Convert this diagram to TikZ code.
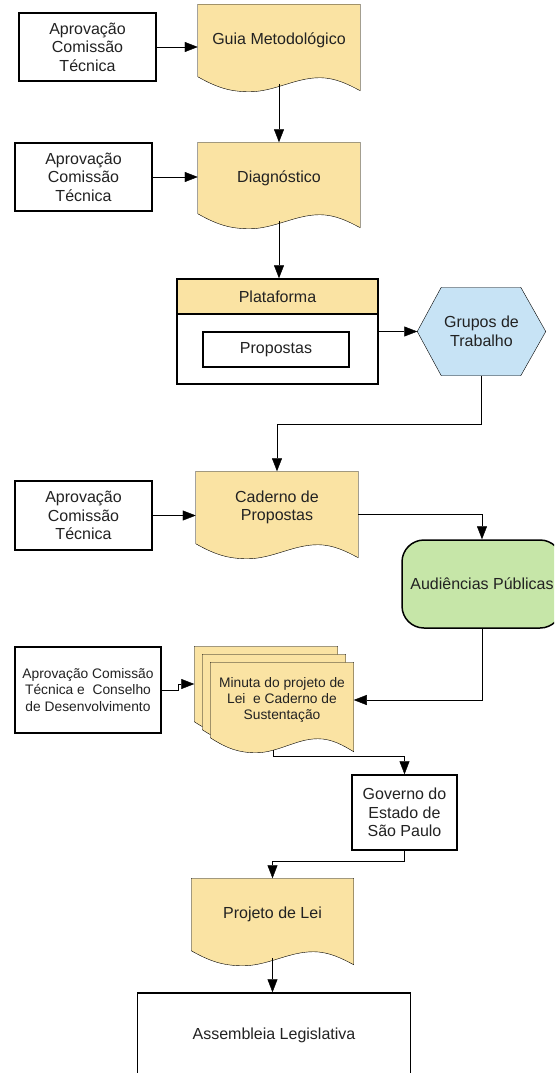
\documentclass[tikz,border=0pt]{standalone}
\usepackage{fontspec}
\setmainfont{Liberation Sans}
\usetikzlibrary{arrows.meta,calc,backgrounds}
\definecolor{docyellow}{RGB}{250,227,163}
\definecolor{audgreen}{RGB}{198,230,168}
\definecolor{grpblue}{RGB}{199,227,245}
\definecolor{ink}{RGB}{34,34,34}
\newcommand{\wavedoc}[1]{%
  \filldraw[docshape] let \p1=(#1.south west), \p2=(#1.north east), \n1={\x2-\x1} in
    (\p1) .. controls ({\x1+0.12*\n1},{\y1-11pt}) and ({\x1+0.2*\n1},{\y1-15pt}) .. ({\x1+0.32*\n1},{\y1-15pt})
    .. controls ({\x1+0.47*\n1},{\y1-15pt}) and ({\x1+0.6*\n1},{\y1-1pt}) .. ({\x1+0.75*\n1},{\y1-1pt})
    .. controls ({\x1+0.85*\n1},{\y1-1pt}) and ({\x1+0.93*\n1},{\y1-8pt}) .. (\x2,{\y1-14pt})
    -- (\p2) -- (\x1,\y2) -- cycle;}
\begin{document}
\begin{tikzpicture}[x=1pt,y=-1pt,line width=1.5pt,
  every node/.style={inner sep=2pt,align=center,text=ink,font=\fontsize{16}{18.5}\selectfont},
  box/.style={draw,fill=white},
  small/.style={font=\fontsize{13.8}{16.2}\selectfont},
  arr/.style={-{Triangle[length=13pt,width=10pt]}},
  docshape/.style={draw,fill=docyellow}]
	\useasboundingbox (0,0) rectangle (554,1073);
	\clip (0,0) rectangle (554,1073);
	\node[box,minimum width=137,minimum height=68] (apr1) at (87.5,47) {Aprovação\\Comissão\\Técnica};
	\node[minimum width=161,minimum height=71] (guia) at (279,40.5) {Guia Metodológico};
	\node[box,minimum width=137,minimum height=68] (apr2) at (83.5,177) {Aprovação\\Comissão\\Técnica};
	\node[minimum width=161,minimum height=70] (diag) at (279,178) {Diagnóstico};
	\node[box,minimum width=201,minimum height=105] (plat) at (277.5,331.5) {};
	\node[draw,fill=docyellow,minimum width=201,minimum height=35,anchor=north] (plathead) at (plat.north) {Plataforma};
	\node[box,minimum width=146,minimum height=35] (propostas) at (276,349.5) {Propostas};
	\node[minimum width=127,minimum height=87] (grupos) at (481.5,331.5) {Grupos de\\Trabalho};
	\node[box,minimum width=137,minimum height=69] (apr3) at (83.5,515.5) {Aprovação\\Comissão\\Técnica};
	\node[minimum width=161,minimum height=71] (caderno) at (277,507.5) {Caderno de\\Propostas};
	\node[draw,fill=audgreen,rounded corners=22pt,minimum width=160,minimum height=88] (aud) at (482,584) {Audiências Públicas};
	\node[box,small,minimum width=146,minimum height=86] (apr4) at (88,690) {Aprovação Comissão\\Técnica e\ \ Conselho\\de Desenvolvimento};
	\node[minimum width=142,minimum height=74] (mback) at (266,684) {};
	\node[minimum width=142,minimum height=74] (mmid) at (274,692) {};
	\node[small,minimum width=142,minimum height=74] (minuta) at (282,700) {Minuta do projeto de\\Lei\ \ e Caderno de\\Sustentação};
	\node[box,minimum width=105,minimum height=75] (governo) at (404.5,812.5) {Governo do\\Estado de\\São Paulo};
	\node[minimum width=161,minimum height=71] (projeto) at (272.5,914.5) {Projeto de Lei};
	\node[box,minimum width=273,minimum height=84] (assembleia) at (274,1035) {Assembleia Legislativa};
	\begin{pgfonlayer}{background}
		\wavedoc{guia}
		\wavedoc{diag}
		\wavedoc{caderno}
		\wavedoc{mback}
		\wavedoc{mmid}
		\wavedoc{minuta}
		\wavedoc{projeto}
		\filldraw[fill=grpblue] (grupos.west) -- ([xshift=24pt]grupos.north west) -- ([xshift=-25pt]grupos.north east) -- (grupos.east)
			-- ([xshift=-25pt]grupos.south east) -- ([xshift=24pt]grupos.south west) -- cycle;
	\end{pgfonlayer}
	\draw[arr] (apr1.east) -- (apr1.east -| guia.west);
	\draw[arr] ([yshift=-7pt]guia.south) -- (diag.north);
	\draw[arr] (apr2.east) -- (apr2.east -| diag.west);
	\draw[arr] ([yshift=-7pt]diag.south) -- (diag.south |- plat.north);
	\draw[arr] (plat.east) -- (grupos.west);
	\draw[arr] (grupos.south) -- ++(0,48) -| (caderno.north);
	\draw[arr] (apr3.east) -- (apr3.east -| caderno.west);
	\draw[arr] ([yshift=-7pt]caderno.east) -| (aud.north);
	\draw[arr] (aud.south) |- (minuta.east);
	\draw[arr] (apr4.east) -- ++(16,0) |- (mback.west);
	\draw[arr] ([xshift=-9pt,yshift=-12pt]minuta.south) -- ++(0,6) -| (governo.north);
	\draw[arr] (governo.south) -- ++(0,10) -| (projeto.north);
	\draw[arr] ([yshift=-7pt]projeto.south) -- (projeto.south |- assembleia.north);
\end{tikzpicture}
\end{document}
